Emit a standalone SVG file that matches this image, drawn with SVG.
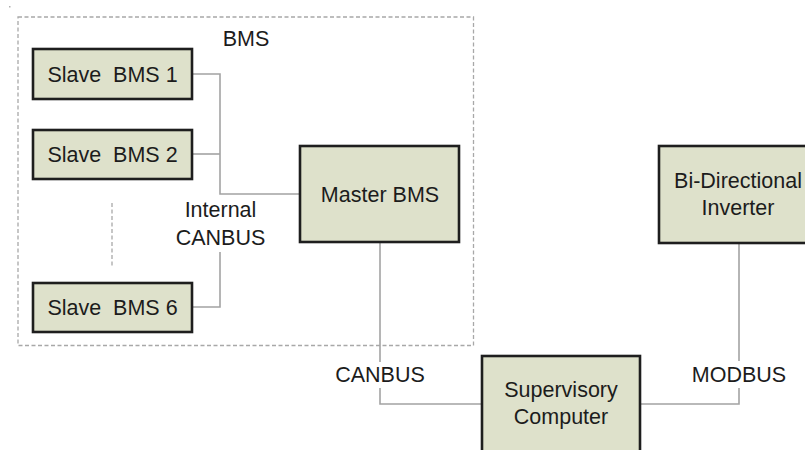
<svg xmlns="http://www.w3.org/2000/svg" width="805" height="450" viewBox="0 0 805 450">
  <style>
    .box { fill: #dee1cb; stroke: #1e1e1e; stroke-width: 2.6; }
    .lbl { font-family: "Liberation Sans", Arial, sans-serif; font-size: 21.5px; fill: #1c1c1c; text-anchor: middle; white-space: pre; }
    .wire { fill: none; stroke: #a3a3a3; stroke-width: 1.6; }
    .dash { fill: none; stroke: #a8a8a8; stroke-width: 1.3; stroke-dasharray: 4 2.5; }
  </style>
  <rect width="805" height="450" fill="#ffffff"/>
  <rect x="9" y="6" width="1.5" height="1.5" fill="#b0b0b0"/>

  <!-- BMS enclosure -->
  <g id="bms-group">
    <rect class="dash" x="18" y="17" width="455.5" height="328.5"/>
    <text class="lbl" x="246" y="46">BMS</text>
    <line class="dash" x1="112" y1="203" x2="112" y2="267"/>
  </g>

  <!-- connectors -->
  <g id="connectors">
    <polyline class="wire" points="192,74 220,74 220,194 300,194"/>
    <line class="wire" x1="192" y1="154" x2="220" y2="154"/>
    <polyline class="wire" points="192,307 220,307 220,252"/>
    <polyline class="wire" points="380,243 380,362"/>
    <polyline class="wire" points="380,388 380,404 482,404"/>
    <polyline class="wire" points="640,404 739,404 739,388"/>
    <polyline class="wire" points="739,361 739,243"/>
    <text class="lbl" x="220.5" y="217">Internal</text>
    <text class="lbl" x="220.5" y="245">CANBUS</text>
    <text class="lbl" x="380" y="382">CANBUS</text>
    <text class="lbl" x="739" y="382">MODBUS</text>
  </g>

  <g id="slave1">
    <rect class="box" x="33" y="49" width="159" height="50"/>
    <text class="lbl" x="112.5" y="81.5">Slave  BMS 1</text>
  </g>
  <g id="slave2">
    <rect class="box" x="33" y="130" width="159" height="49"/>
    <text class="lbl" x="112.5" y="162">Slave  BMS 2</text>
  </g>
  <g id="slave6">
    <rect class="box" x="33" y="283" width="159" height="49"/>
    <text class="lbl" x="112.5" y="315">Slave  BMS 6</text>
  </g>
  <g id="master">
    <rect class="box" x="300" y="146" width="159" height="96"/>
    <text class="lbl" x="380" y="202">Master BMS</text>
  </g>
  <g id="inverter">
    <rect class="box" x="659" y="146" width="159" height="97"/>
    <text class="lbl" x="738" y="188">Bi-Directional</text>
    <text class="lbl" x="738" y="215">Inverter</text>
  </g>
  <g id="supervisory">
    <rect class="box" x="482" y="356" width="158" height="110"/>
    <text class="lbl" x="561" y="397">Supervisory</text>
    <text class="lbl" x="561" y="424">Computer</text>
  </g>
</svg>
